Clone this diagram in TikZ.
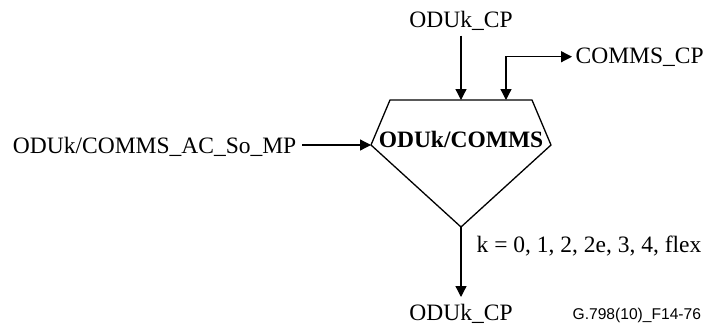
\documentclass[tikz,border=0pt]{standalone}
\usepackage{fontspec}
\setmainfont{Liberation Serif}
\newfontfamily\figsans{Liberation Sans}
\usetikzlibrary{arrows.meta}
\begin{document}
\begin{tikzpicture}[x=0.5pt,y=-0.5pt, line width=0.65pt,
  >={Triangle[length=5.5pt,width=5.5pt]},
  lbl/.style={inner sep=0pt, font=\fontsize{11.75}{14}\selectfont},
  fnlbl/.style={inner sep=0pt, font=\fontsize{11.75}{14}\selectfont\bfseries},
  idlbl/.style={inner sep=0pt, font=\fontsize{7.8}{9}\selectfont\figsans}]
\useasboundingbox (0,0) rectangle (713,327);
% function shape
\coordinate (tl) at (390,100);
\coordinate (tr) at (532,100);
\coordinate (r) at (551,145);
\coordinate (ap) at (461,227);
\coordinate (l) at (371,145);
\draw (tl) -- (tr) -- (r) -- (ap) -- (l) -- cycle;
\node[fnlbl, anchor=base] (fn) at (461,147) {ODUk/COMMS};
% access points on top edge
\coordinate (inA) at (461,100);
\coordinate (inB) at (506,100);
\coordinate (outA) at (461,297);
% labels
\node[lbl, anchor=base] (topcp) at (461,27) {ODUk\_CP};
\node[lbl, anchor=base west] (comms) at (575,63) {COMMS\_CP};
\node[lbl, anchor=base east] (src) at (297,153) {ODUk/COMMS\_AC\_So\_MP};
\node[lbl, anchor=base] (botcp) at (461,320) {ODUk\_CP};
\node[lbl, anchor=base west] (klbl) at (476,252) {k = 0, 1, 2, 2e, 3, 4, flex};
\node[idlbl, anchor=base west] (figid) at (572,319) {G.798(10)\_F14-76};
% connectors
\draw[->, shorten <=2.5pt] (topcp.south) -- (inA);
\draw[<->, shorten >=1.5pt] (inB) |- (comms.west);
\draw[->, shorten <=2.5pt] (src.east |- l) -- (l);
\draw[->] (ap) -- (outA);
\end{tikzpicture}
\end{document}
